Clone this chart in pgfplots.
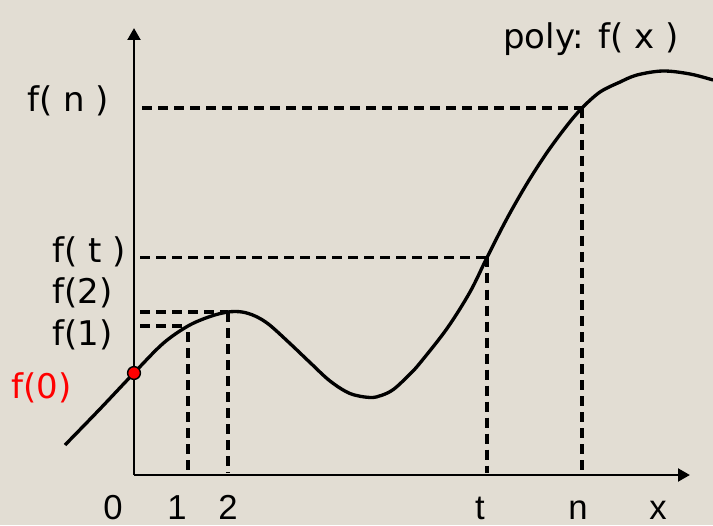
\documentclass[border=0pt]{standalone}
\usepackage{fontspec}
\setmainfont{DejaVu Sans}
\newfontfamily\arialfont{Liberation Sans}
\usepackage{pgfplots}
\pgfplotsset{compat=1.18}
\usetikzlibrary{arrows.meta,backgrounds}
\definecolor{paper}{RGB}{226,221,211}
\tikzset{
  dashline/.style={black, line width=2.3pt, dash pattern=on 7.5pt off 4.5pt},
  lbl/.style={font=\fontsize{25.5pt}{27pt}\selectfont, inner sep=0pt},
  tick lbl/.style={font=\arialfont\fontsize{26pt}{28pt}\selectfont, inner sep=0pt, anchor=base},
}

\begin{document}
\begin{tikzpicture}
\begin{axis}[
  x=0.75pt, y=0.75pt,
  xmin=0, xmax=556, ymin=0, ymax=447,
  axis lines=left,
  axis line style={line width=2.2pt, -{Triangle[length=9pt,width=9.5pt]}},
  xtick=\empty, ytick=\empty,
  clip=false,
  scale only axis,
]
% the polynomial
\addplot[black, line width=2.5pt, smooth, tension=0.55] coordinates {
  (-69,30) (-35,65) (0,102) (29,131.5) (54,149) (76,158.5) (94,163)
  (108,163) (121,159) (135,150.5) (156,131.5) (176,112.5) (196,94)
  (216,81.5) (236,77.5) (248,79.8) (260,86) (276,101) (286,112)
  (313,146.5) (336,183) (353,217.5) (373,256.5) (393,291.5) (413,322.5)
  (433,349.5) (448,367) (466,383) (485,392.5) (503,400) (529,404)
  (556,401) (579,395)
};
% guide lines to f(1), f(2), f(t), f(n)
\addplot[dashline] coordinates {(6,149) (54,149)};
\addplot[dashline] coordinates {(54,143) (54,2)};
\addplot[dashline] coordinates {(6,163) (94,163)};
\addplot[dashline] coordinates {(94,163) (94,2)};
\addplot[dashline] coordinates {(6,217.5) (353,217.5)};
\addplot[dashline] coordinates {(353,217.5) (353,2)};
\addplot[dashline] coordinates {(8,367) (448,367)};
\addplot[dashline] coordinates {(448,367) (448,2)};
% f(0)
\addplot[only marks, mark=*, mark size=4.8pt, mark options={fill=red, draw=black, line width=1.1pt}]
  coordinates {(0,102)};

\node[lbl, anchor=east] at (axis cs:-25,374) {f( n )};
\node[lbl, anchor=east] at (axis cs:-8,223) {f( t )};
\node[lbl, anchor=east] at (axis cs:-21,182) {f(2)};
\node[lbl, anchor=east] at (axis cs:-21,140) {f(1)};
\node[lbl, anchor=east, text=red] at (axis cs:-62,87) {f(0)};
\node[lbl, anchor=east] at (axis cs:545,436) {poly: f( x )};

\node[tick lbl] at (axis cs:-21,-44) {0};
\node[tick lbl] at (axis cs:43,-44) {1};
\node[tick lbl] at (axis cs:94,-44) {2};
\node[tick lbl] at (axis cs:346,-44) {t};
\node[tick lbl] at (axis cs:444,-44) {n};
\node[tick lbl] at (axis cs:524,-44) {x};

\coordinate (bl) at (axis cs:-134,-50);
\coordinate (tr) at (axis cs:579,475);
\end{axis}
\begin{scope}[on background layer]
  \fill[paper] (bl) rectangle (tr);
\end{scope}
\pgfresetboundingbox
\path[use as bounding box] (bl) rectangle (tr);
\end{tikzpicture}
\end{document}
